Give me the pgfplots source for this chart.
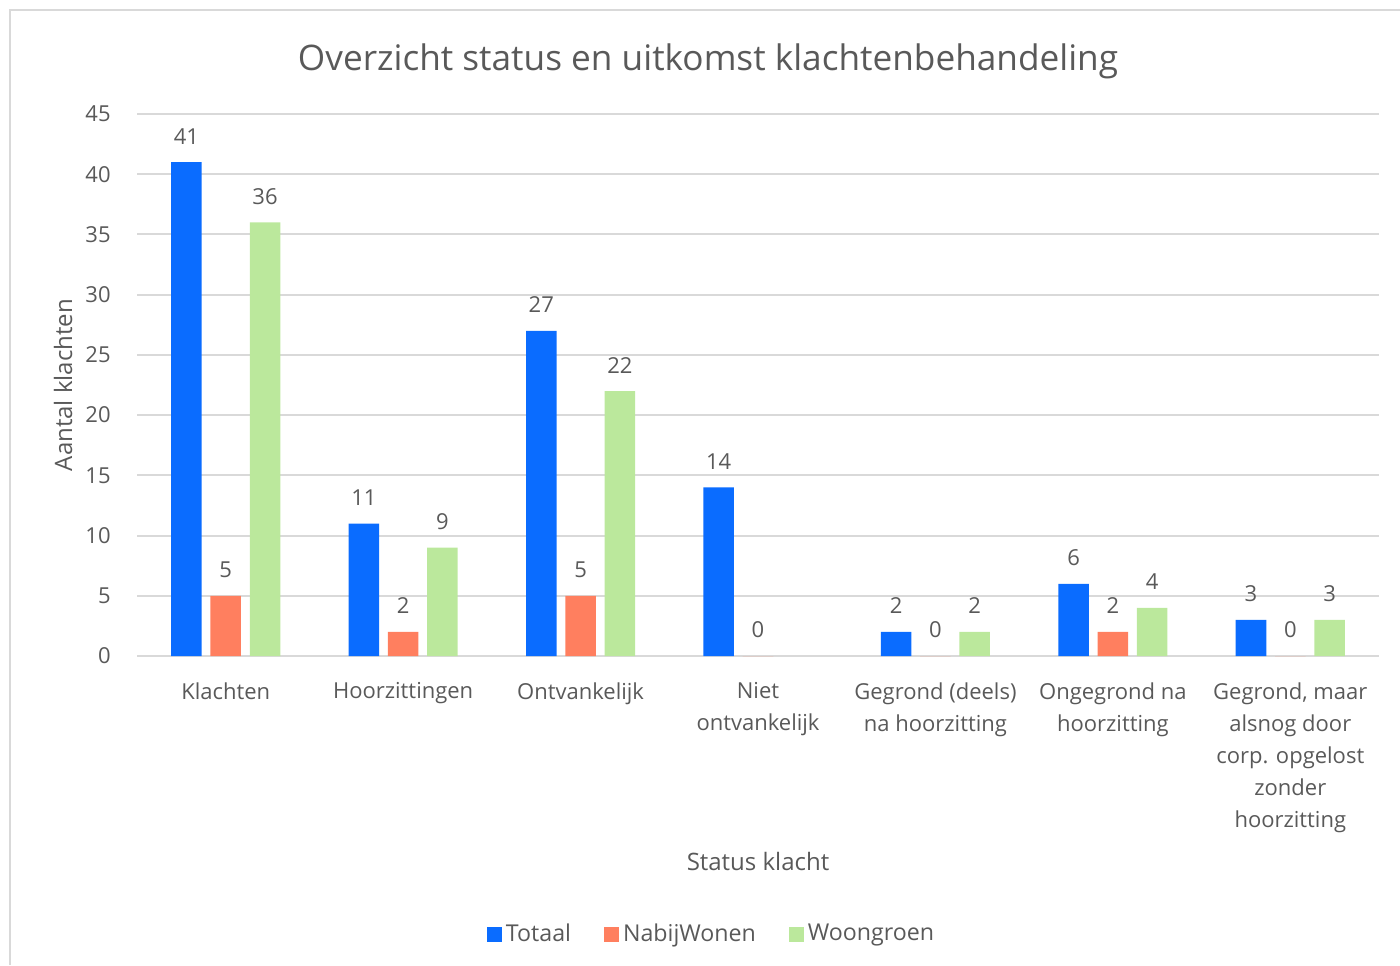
\documentclass[border=0pt]{standalone}
\usepackage{fontspec}
\setmainfont{Open Sans}
\usepackage{pgfplots}
\pgfplotsset{compat=1.18}
\definecolor{cTot}{HTML}{0A6CFF}
\definecolor{cNab}{HTML}{FF7F5F}
\definecolor{cWoo}{HTML}{BBE89C}
\definecolor{txt}{HTML}{595959}
\definecolor{gridc}{HTML}{D9D9D9}
\begin{document}
\begin{tikzpicture}
\useasboundingbox (0,0) rectangle (700pt,-482.5pt);
\draw[gridc, line width=1pt] (5pt,-482.5pt) -- (5pt,-5pt) -- (700pt,-5pt);
\node[txt, font=\fontsize{17.6}{21}\selectfont] at (354pt,-30.5pt) {Overzicht status en uitkomst klachtenbehandeling};
\node[txt, font=\fontsize{12}{14}\selectfont, rotate=90] at (31.5pt,-192.5pt) {Aantal klachten};
\node[txt, font=\fontsize{12}{14}\selectfont] at (379pt,-430.5pt) {Status klacht};
\begin{axis}[
  at={(68.5pt,-328pt)}, anchor=south west,
  scale only axis, width=621pt, height=271pt,
  xmin=-0.5, xmax=6.5, ymin=0, ymax=45,
  ytick={0,5,...,45},
  xtick={0,...,6},
  xticklabels={Klachten, Hoorzittingen, Ontvankelijk, Niet\\ontvankelijk, Gegrond (deels)\\na hoorzitting, Ongegrond na\\hoorzitting, {Gegrond, maar\\alsnog door\\corp. opgelost\\zonder\\hoorzitting}},
  axis line style={draw=none},
  major tick length=0pt,
  ymajorgrids, major grid style={gridc, line width=1pt},
  /pgf/number format/assume math mode=true,
  tick label style={txt, font=\fontsize{11}{16}\selectfont},
  yticklabel style={anchor=east, inner sep=0pt, xshift=-13pt},
  xticklabel style={anchor=north, inner sep=0pt, yshift=-13pt, align=center},
  ybar, bar width=0.172,
  nodes near coords,
  nodes near coords style={txt, font=\fontsize{11}{16}\selectfont, anchor=center, inner sep=0pt, yshift=13pt},
  legend style={at={(0.4634,-0.513)}, anchor=center, draw=none, fill=none, legend columns=-1,
    font=\fontsize{11.6}{14}\selectfont, text=txt,
    /tikz/every even column/.append style={column sep=14.5pt}},
  legend image code/.code={\fill[#1] (0pt,-3.75pt) rectangle (7.5pt,3.75pt);},
]
\addplot[fill=cTot, draw=none, bar shift=-0.2215] coordinates {(0,41) (1,11) (2,27) (3,14) (4,2) (5,6) (6,3)};
\addplot[fill=cNab, draw=none, bar shift=0] coordinates {(0,5) (1,2) (2,5) (3,0) (4,0) (5,2) (6,0)};
\addplot[fill=cWoo, draw=none, bar shift=0.2215] coordinates {(0,36) (1,9) (2,22) (4,2) (5,4) (6,3)};
\legend{Totaal, NabijWonen, Woongroen}
\end{axis}
\end{tikzpicture}
\end{document}
